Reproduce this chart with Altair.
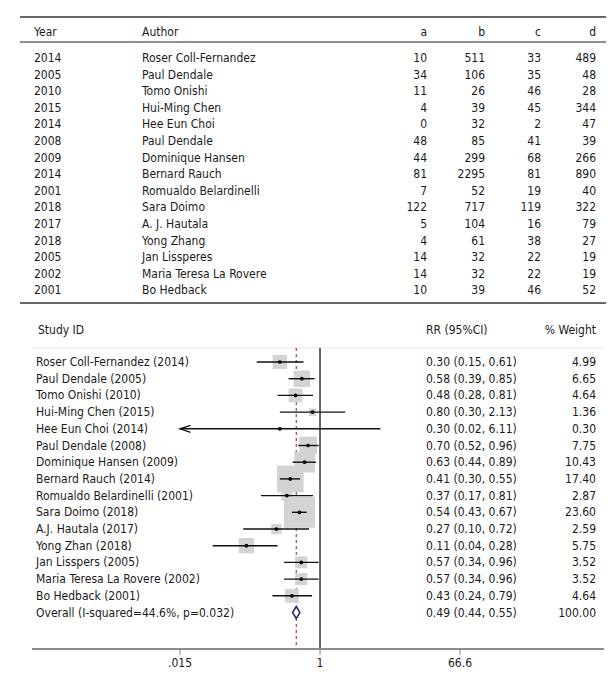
import altair as alt
import pandas as pd

# ---------------- data ----------------
years = [2014, 2005, 2010, 2015, 2014, 2008, 2009, 2014, 2001, 2018, 2017, 2018, 2005, 2002, 2001]
authors = ["Roser Coll-Fernandez", "Paul Dendale", "Tomo Onishi", "Hui-Ming Chen", "Hee Eun Choi",
           "Paul Dendale", "Dominique Hansen", "Bernard Rauch", "Romualdo Belardinelli", "Sara Doimo",
           "A. J. Hautala", "Yong Zhang", "Jan Lissperes", "Maria Teresa La Rovere", "Bo Hedback"]
col_a = [10, 34, 11, 4, 0, 48, 44, 81, 7, 122, 5, 4, 14, 14, 10]
col_b = [511, 106, 26, 39, 32, 85, 299, 2295, 52, 717, 104, 61, 32, 32, 39]
col_c = [33, 35, 46, 45, 2, 41, 68, 81, 19, 119, 16, 38, 22, 22, 46]
col_d = [489, 48, 28, 344, 47, 39, 266, 890, 40, 322, 79, 27, 19, 19, 52]

studies = ["Roser Coll-Fernandez (2014)", "Paul Dendale (2005)", "Tomo Onishi (2010)",
           "Hui-Ming Chen (2015)", "Hee Eun Choi (2014)", "Paul Dendale (2008)",
           "Dominique Hansen (2009)", "Bernard Rauch (2014)", "Romualdo Belardinelli (2001)",
           "Sara Doimo (2018)", "A.J. Hautala (2017)", "Yong Zhan (2018)", "Jan Lisspers (2005)",
           "Maria Teresa La Rovere (2002)", "Bo Hedback (2001)"]
rr = [0.30, 0.58, 0.48, 0.80, 0.30, 0.70, 0.63, 0.41, 0.37, 0.54, 0.27, 0.11, 0.57, 0.57, 0.43]
ci_lo = [0.15, 0.39, 0.28, 0.30, 0.02, 0.52, 0.44, 0.30, 0.17, 0.43, 0.10, 0.04, 0.34, 0.34, 0.24]
ci_hi = [0.61, 0.85, 0.81, 2.13, 6.11, 0.96, 0.89, 0.55, 0.81, 0.67, 0.72, 0.28, 0.96, 0.96, 0.79]
weights = [4.99, 6.65, 4.64, 1.36, 0.30, 7.75, 10.43, 17.40, 2.87, 23.60, 2.59, 5.75, 3.52, 3.52, 4.64]
truncated_left = ["Hee Eun Choi (2014)"]

overall_label = "Overall (I-squared=44.6%, p=0.032)"
overall_rr, overall_lo, overall_hi, overall_w = 0.49, 0.44, 0.55, 100.00

tick_values = [0.015, 1, 66.6]
tick_labels = [".015", "1", "66.6"]

# ---------------- style ----------------
FONT = "DejaVu Sans Condensed, sans-serif"
FS = 12
TXT = "#1a1a1a"
W = 599
H_TAB = 298
H_FOR = 376

# ---------------- top table ----------------
n = len(years)
tab = pd.DataFrame({"row": list(range(n)), "year": [str(y) for y in years], "author": authors,
                    "a": [str(v) for v in col_a], "b": [str(v) for v in col_b],
                    "c": [str(v) for v in col_c], "d": [str(v) for v in col_d]})
yscale_t = alt.Scale(domain=[0, n - 1], range=[50, 50 + (n - 1) * 16.6])
ybase = alt.Y("row:Q", scale=yscale_t, axis=None)

def ttext(field, x, align="left"):
    return alt.Chart(tab).mark_text(font=FONT, fontSize=FS, color=TXT, align=align,
                                    baseline="middle").encode(x=alt.value(x), y=ybase,
                                                              text=f"{field}:N")

hdr = pd.DataFrame({"label": ["Year", "Author", "a", "b", "c", "d"],
                    "xpos": [26, 134, 419, 477, 533, 588],
                    "al": ["left", "left", "right", "right", "right", "right"]})
hdr_layers = [alt.Chart(hdr[hdr.label == lab]).mark_text(font=FONT, fontSize=FS, color=TXT,
                                                         align=al, baseline="middle")
              .encode(x=alt.value(xp), y=alt.value(24), text="label:N")
              for lab, xp, al in zip(hdr.label, hdr.xpos, hdr.al)]

def hrule(y, x1, x2, color="#333333", w=1.5):
    return alt.Chart(pd.DataFrame({"k": [0]})).mark_rule(color=color, strokeWidth=w).encode(
        x=alt.value(x1), x2=alt.value(x2), y=alt.value(y))

table = alt.layer(
    hrule(9, 12, 598), hrule(34, 12, 598, "#222222", 1.2), hrule(295, 12, 598),
    *hdr_layers,
    ttext("year", 26), ttext("author", 134),
    ttext("a", 419, "right"), ttext("b", 477, "right"),
    ttext("c", 533, "right"), ttext("d", 588, "right"),
).properties(width=W, height=H_TAB)

# ---------------- forest plot ----------------
m = len(studies)
axis_min = tick_values[0]
forest = pd.DataFrame({
    "row": list(range(m)), "study": studies, "rr": rr, "lo": ci_lo, "hi": ci_hi, "w": weights,
    "lo_draw": [axis_min if s in truncated_left else v for s, v in zip(studies, ci_lo)],
    "ci_txt": [f"{r:.2f} ({l:.2f}, {h:.2f})" for r, l, h in zip(rr, ci_lo, ci_hi)],
    "w_txt": [f"{v:.2f}" for v in weights],
})
ov = pd.DataFrame({"row": [m], "study": [overall_label], "rr": [overall_rr],
                   "lo": [overall_lo], "hi": [overall_hi],
                   "ci_txt": [f"{overall_rr:.2f} ({overall_lo:.2f}, {overall_hi:.2f})"],
                   "w_txt": [f"{overall_w:.2f}"]})
labels_all = pd.concat([forest[["row", "study", "ci_txt", "w_txt"]],
                        ov[["row", "study", "ci_txt", "w_txt"]]], ignore_index=True)
arrows = forest[forest.study.isin(truncated_left)]

xscale = alt.Scale(type="log", domain=[tick_values[0], tick_values[-1]], range=[172, 452])
yscale_f = alt.Scale(domain=[0, m], range=[56, 56 + m * 16.7])
Xr = lambda f: alt.X(f"{f}:Q", scale=xscale, axis=None)
Yf = alt.Y("row:Q", scale=yscale_f, axis=None)

null_line = alt.Chart(pd.DataFrame({"v": [1]})).mark_rule(color="#000000", strokeWidth=1.2).encode(
    x=Xr("v"), y=alt.value(42), y2=alt.value(343))
ov_line = alt.Chart(ov).mark_rule(color="#8b1a1a", strokeWidth=1, strokeDash=[3, 3]).encode(
    x=Xr("rr"), y=alt.value(42), y2=alt.value(343))
boxes = alt.Chart(forest).mark_square(color="#d3d3d3", opacity=1).encode(
    x=Xr("rr"), y=Yf,
    size=alt.Size("w:Q", scale=alt.Scale(type="linear", domain=[0, 23.6], range=[0, 961]), legend=None))
ci = alt.Chart(forest).mark_rule(color="#111111", strokeWidth=1.4).encode(
    x=Xr("lo_draw"), x2="hi:Q", y=Yf)
dots = alt.Chart(forest).mark_circle(color="#000000", size=14, opacity=1).encode(x=Xr("rr"), y=Yf)
arrow = alt.Chart(arrows).mark_point(shape="M3,-1L0,0L3,1", size=49, filled=False,
                                     color="#111111", strokeWidth=1.3, opacity=1).encode(
    x=Xr("lo_draw"), y=Yf)
diamond = alt.Chart(ov).mark_point(shape="M0,-1L0.62,0L0,1L-0.62,0Z", size=144, filled=True,
                                   fill="white", stroke="#23236e", strokeWidth=1.5, opacity=1).encode(
    x=Xr("rr"), y=Yf)

def ftext(field, x, align="left"):
    return alt.Chart(labels_all).mark_text(font=FONT, fontSize=FS, color=TXT, align=align,
                                           baseline="middle").encode(x=alt.value(x), y=Yf,
                                                                     text=f"{field}:N")

fhdr = [alt.Chart(pd.DataFrame({"label": [lab]})).mark_text(font=FONT, fontSize=FS, color=TXT,
                                                             align=al, baseline="middle")
        .encode(x=alt.value(xp), y=alt.value(24), text="label:N")
        for lab, xp, al in [("Study ID", 30, "left"), ("RR (95%CI)", 418, "left"),
                            ("% Weight", 588, "right")]]

ticks_df = pd.DataFrame({"v": tick_values, "lab": tick_labels})
tick_marks = alt.Chart(ticks_df).mark_rule(color="#7f7f7f", strokeWidth=1).encode(
    x=Xr("v"), y=alt.value(343), y2=alt.value(349))
tick_text = alt.Chart(ticks_df).mark_text(font=FONT, fontSize=FS, color=TXT, baseline="middle").encode(
    x=Xr("v"), y=alt.value(357), text="lab:N")

forest_chart = alt.layer(
    hrule(42, 24, 596, "#e8e8e8", 1),
    ov_line, null_line, boxes, ci, dots, arrow, diamond,
    *fhdr, ftext("study", 28), ftext("ci_txt", 418), ftext("w_txt", 588, "right"),
    hrule(343, 24, 596, "#8c8c8c", 2), tick_marks, tick_text,
).properties(width=W, height=H_FOR)

chart = alt.vconcat(table, forest_chart, spacing=0).properties(padding=0).configure_view(stroke=None)
chart.save("out.html", embed_options={"renderer": "svg", "actions": False})
